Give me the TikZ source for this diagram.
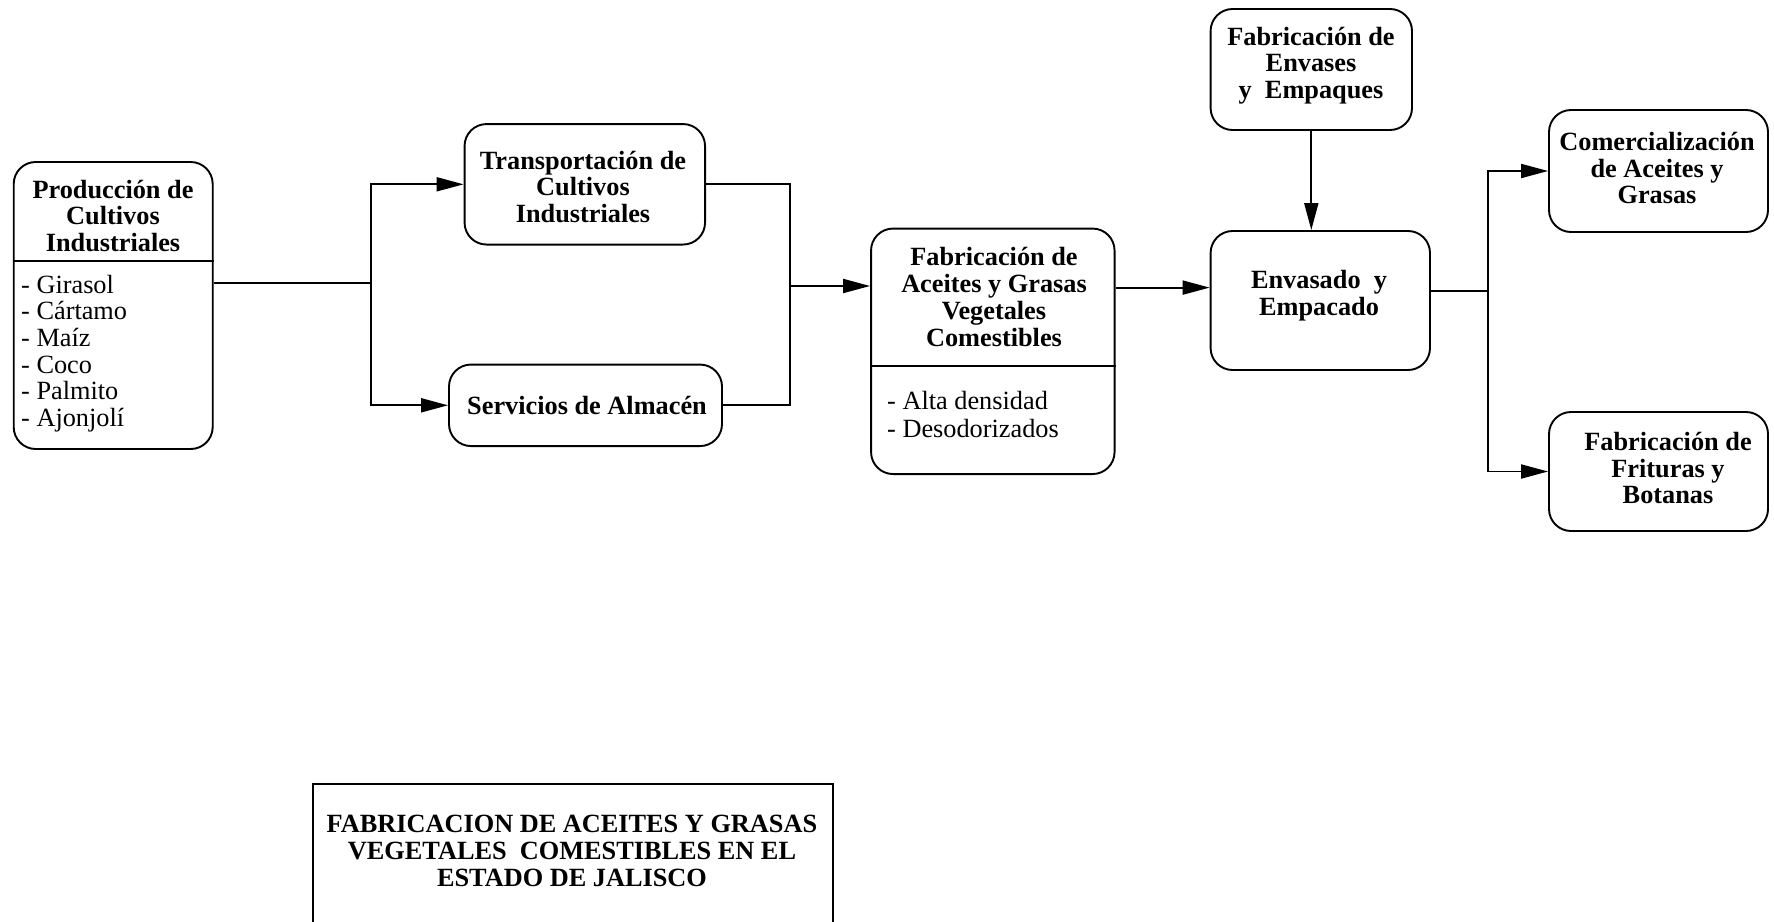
\documentclass[tikz,border=0pt]{standalone}
\usepackage{fontspec}
\setmainfont{Liberation Serif}
\usetikzlibrary{arrows.meta,calc}
\begin{document}
\begin{tikzpicture}[x=1pt,y=-1pt,
  box/.style={draw,line width=1.9pt,rounded corners=22pt,inner sep=0pt},
  hdr/.style={align=center,inner sep=0pt,font=\fontsize{26.3pt}{26.7pt}\selectfont\bfseries},
  items/.style={align=left,inner sep=0pt,anchor=west,font=\fontsize{26.3pt}{26.7pt}\selectfont},
  link/.style={line width=1.9pt},
  arr/.style={link,-{Triangle[length=27pt,width=14pt]}}]
\clip (0,0) rectangle (1774,921);
\fill[white] (0,0) rectangle (1774,921);

% process boxes
\node[box,minimum width=199pt,minimum height=287pt]   (prod) at (113.2,305.5) {};
\node[box,minimum width=240.5pt,minimum height=120.5pt] (trans) at (584.8,184.3) {};
\node[box,minimum width=273pt,minimum height=81.5pt]  (serv) at (585.5,405.3) {};
\node[box,minimum width=243.5pt,minimum height=245.5pt] (fab) at (992.8,351.3) {};
\node[box,minimum width=219.4pt,minimum height=139pt] (env) at (1320.3,300.5) {};
\node[box,minimum width=201.4pt,minimum height=121pt] (envs) at (1311.3,69.5) {};
\node[box,minimum width=219pt,minimum height=122pt]   (com) at (1658.5,171) {};
\node[box,minimum width=219pt,minimum height=119pt]   (fri) at (1658.5,471.5) {};

% compartment dividers
\draw[link] ($(prod.north west)+(0,100)$) coordinate (pdl) -- (pdl -| prod.east);
\draw[link] ($(fab.north west)+(0,138)$) coordinate (fdl) -- (fdl -| fab.east);

% box texts
\node[hdr] (prodT) at (113,216) {Producción de\\Cultivos\\Industriales};
\node[items] (prodL) at (21,353.5) {- Girasol\\- Cártamo\\- Maíz\\- Coco\\- Palmito\\- Ajonjolí};
\node[hdr] (transT) at (583,187) {Transportación de\\Cultivos\\Industriales};
\node[hdr] (servT) at (587,405) {Servicios de Almacén};
\node[hdr] (fabT) at (994,297) {Fabricación de\\Aceites y Grasas\\Vegetales\\Comestibles};
\node[items,font=\fontsize{26.3pt}{28.5pt}\selectfont] (fabL) at (887,414.5) {- Alta densidad\\- Desodorizados};
\node[hdr] (envT) at (1319,296) {Envasado~~y\\Empacado};
\node[hdr] (envsT) at (1311,65.6) {Fabricación de\\Envases\\y~~Empaques};
\node[hdr] (comT) at (1657,168) {Comercialización\\de Aceites y\\Grasas};
\node[hdr] (friT) at (1668,468) {Fabricación de\\Frituras y\\Botanas};

% title frame
\node[draw,line width=1.6pt,minimum width=520pt,minimum height=160pt,inner sep=0pt] (title) at (573,864) {};
\node[hdr,font=\fontsize{26.3pt}{27pt}\selectfont\bfseries] (titleT) at (572,851)
  {FABRICACION DE ACEITES Y GRASAS\\VEGETALES~~COMESTIBLES EN EL\\ESTADO DE JALISCO};

% connectors
\coordinate (j1) at (371,283);
\coordinate (j2) at (790,286);
\coordinate (j4) at (1488,291);
\draw[link] (prod.east |- j1) -- (j1);
\draw[arr] (j1) |- (trans.west);
\draw[arr] (j1) |- (serv.west);
\draw[link] (trans.east) -| (j2) |- (serv.east);
\draw[arr] (j2) -- (fab.west |- j2);
\coordinate (fo) at ($(fab.north east)+(0,60)$);
\draw[arr] (fo) -- (env.west |- fo);
\draw[arr] (envs.south) -- (envs.south |- env.north);
\draw[link] (env.east |- j4) -- (j4);
\draw[arr] (j4) |- (com.west);
\draw[arr] (j4) |- (fri.west);
\end{tikzpicture}
\end{document}
